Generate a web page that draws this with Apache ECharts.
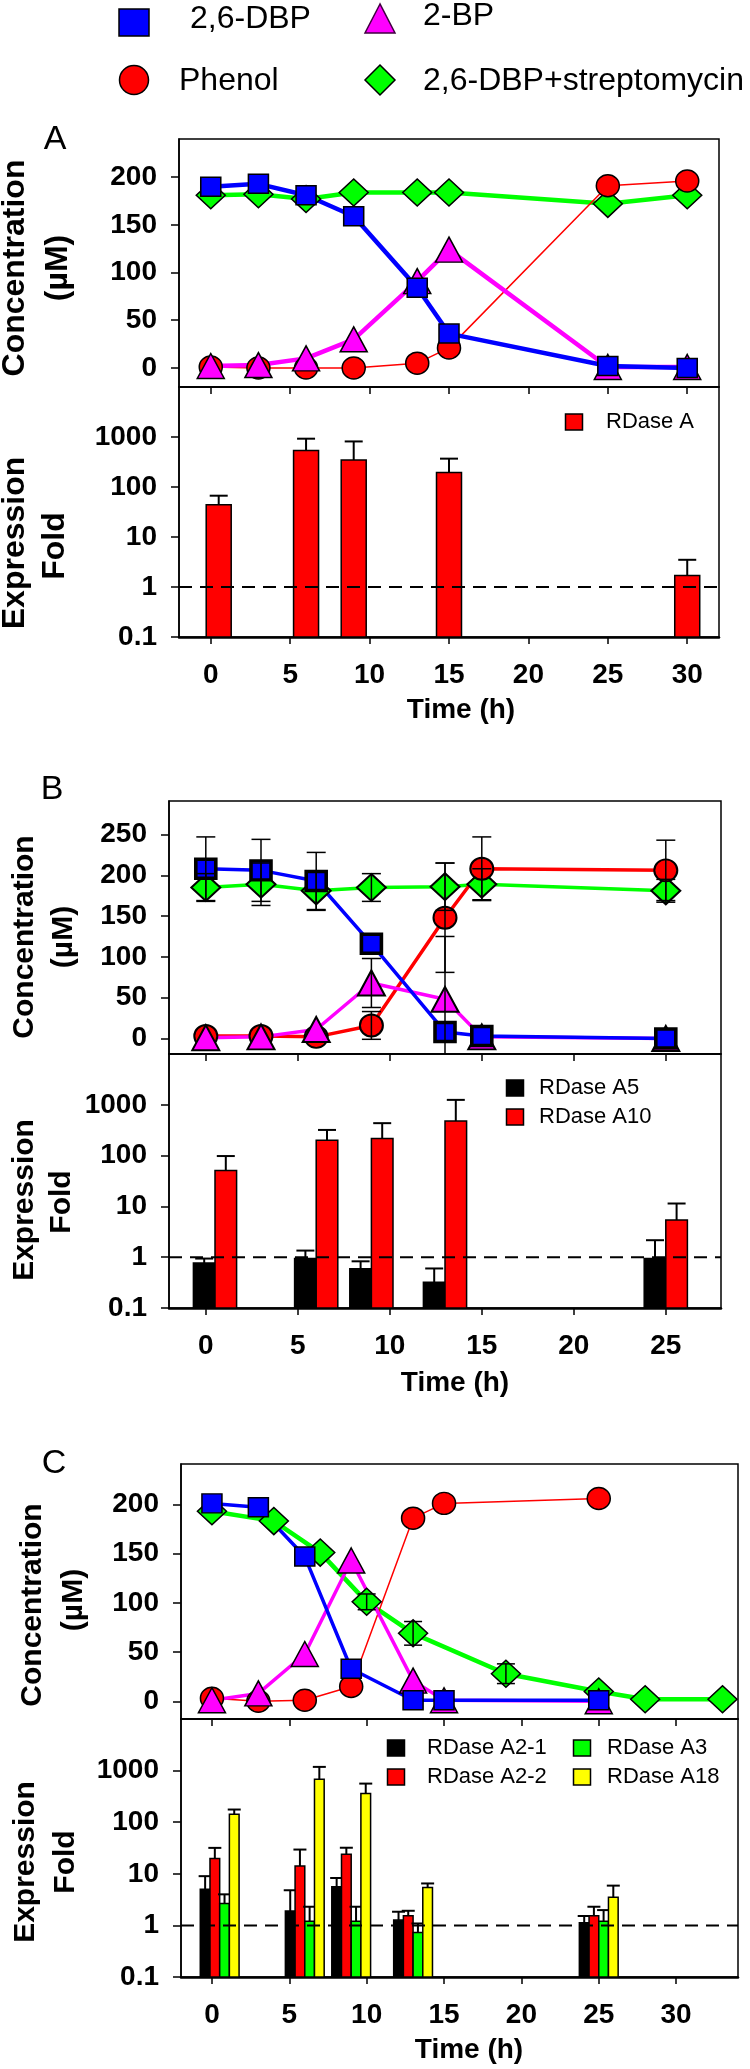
<!DOCTYPE html>
<html><head><meta charset="utf-8">
<script src="https://cdn.jsdelivr.net/npm/echarts@6/dist/echarts.min.js"></script>
<style>html,body{margin:0;padding:0;background:#fff}#c{width:750px;height:2069px}</style>
</head><body><div id="c"></div>
<script>
// ================= DATA =================
// Panel A - concentrations (µM)
const timeA   = [0, 3, 6, 9, 13, 15, 25, 30];
const dbpA    = [190, 193, 181, 159, 84, 36, 2, 0];
const bpA     = [2, 3, 10, 30, 91, 124, 1, 1];
const phenolA = [1, 0, 0, 0, 5, 21, 191, 196];
const strepA  = [181, 182, 177, 184, 184, 184, 172, 181];
// Panel A - expression fold (upper end of error bar in *Up)
const barTimeA = [0.5, 6, 9, 15, 30];
const rdaseA   = [44, 537, 347, 194, 1.7];
const rdaseAUp = [67, 925, 815, 369, 3.5];

// Panel B - concentrations (µM) with ± error
const timeB     = [0, 3, 6, 9, 13, 15, 25];
const dbpB      = [208, 206, 193, 116, 8, 3, 0];
const dbpBErr   = [39, 38, 35, 0, 0, 0, 0];
const bpB       = [1, 2, 11, 68, 48, 2, 0];
const bpBErr    = [0, 0, 0, 30, 77, 0, 0];
const phenolB   = [3, 3, 2, 16, 148, 208, 206];
const phenolBErr= [0, 0, 0, 17, 67, 39, 37];
const strepB    = [185, 189, 181, 185, 186, 189, 181];
const strepBErr = [17, 26, 24, 17, 29, 19, 14];
// Panel B - expression fold
const barTimeB   = [0.5, 6, 9, 13, 25];
const rdaseA5    = [0.77, 0.94, 0.59, 0.32, 0.94];
const rdaseA5Up  = [0.94, 1.35, 0.83, 0.6, 2.16];
const rdaseA10   = [51, 200, 218, 480, 5.4];
const rdaseA10Up = [98, 320, 435, 1250, 11.4];

// Panel C - concentrations (µM)
const timeC      = [0, 3, 6, 9, 13, 15, 25];
const dbpC       = [201, 197, 147, 33, 1, 1, 1];
const bpC        = [1, 8, 48, 143, 21, 1, 0];
const phenolC    = [3, 0, 1, 15, 186, 201, 206];
const timeStrepC = [0, 4, 7, 10, 13, 19, 25, 28, 33];
const strepC     = [193, 183, 151, 101, 69, 28, 10, 2, 2];
const strepCErr  = [0, 0, 0, 8, 12, 10, 0, 0, 0];
// Panel C - expression fold
const barTimeC   = [0.5, 6, 9, 13, 25];
const rdaseA21   = [5.0, 1.9, 5.6, 1.27, 1.12];
const rdaseA21Up = [9.0, 4.8, 8.3, 1.84, 1.52];
const rdaseA22   = [19.8, 14.1, 24, 1.54, 1.54];
const rdaseA22Up = [31.8, 29.5, 32, 1.92, 2.3];
const rdaseA3    = [2.67, 1.21, 1.21, 0.73, 1.21];
const rdaseA3Up  = [4.0, 2.3, 2.3, 1.09, 1.98];
const rdaseA18   = [143, 680, 359, 5.4, 3.5];
const rdaseA18Up = [176, 1180, 560, 6.5, 5.9];

// Tick labels
const ticksX30 = [0, 5, 10, 15, 20, 25, 30];
const ticksX25 = [0, 5, 10, 15, 20, 25];
const ticksConc200 = [0, 50, 100, 150, 200];
const ticksConc250 = [0, 50, 100, 150, 200, 250];
const ticksLog = [0.1, 1, 10, 100, 1000];

// ================= STYLE / LAYOUT =================
const FF = "'Liberation Sans', Arial, sans-serif";
const BLUE = '#0000ff', RED = '#ff0000', GREEN = '#00ff00', PINK = '#ff00ff', YELLOW = '#ffff00', BLACK = '#000000';

const gridPos = [
  {left: 179, top: 139, width: 540, height: 248},
  {left: 179, top: 387, width: 540, height: 250},
  {left: 169, top: 801, width: 552, height: 253},
  {left: 169, top: 1054, width: 552, height: 254},
  {left: 181, top: 1464, width: 557, height: 255},
  {left: 181, top: 1719, width: 557, height: 258}
];
const grids = gridPos.map(g => Object.assign({show: true, borderColor: '#000', borderWidth: 1.5, backgroundColor: 'transparent', containLabel: false}, g));

const plainNum = v => (v >= 1 ? String(Math.round(v)) : String(+v.toFixed(3)));

function xAx(g, min, max, ticks, showLabel) {
  return {type: 'value', gridIndex: g, min, max,
    axisLine: {show: true, onZero: false, lineStyle: {color: '#000', width: showLabel ? 2.5 : 1.5}},
    axisTick: {show: true, inside: false, length: 7, customValues: ticks, lineStyle: {color: '#000', width: 1.5}},
    axisLabel: {show: showLabel, customValues: ticks, margin: 24, color: '#000', fontSize: 28, fontWeight: 'bold', fontFamily: FF, formatter: plainNum},
    splitLine: {show: false}};
}
function yAx(g, type, min, max, ticks) {
  return {type, gridIndex: g, min, max, logBase: 10,
    axisLine: {show: true, onZero: false, lineStyle: {color: '#000', width: 1.5}},
    axisTick: {show: true, inside: false, length: 8, customValues: ticks, lineStyle: {color: '#000', width: 1.5}},
    axisLabel: {show: true, customValues: ticks, margin: 22, color: '#000', fontSize: 28, fontWeight: 'bold', fontFamily: FF, formatter: plainNum},
    splitLine: {show: false}};
}

const xAxes = [
  xAx(0, -2, 32, ticksX30, false), xAx(1, -2, 32, ticksX30, true),
  xAx(2, -2, 28, ticksX25, false), xAx(3, -2, 28, ticksX25, true),
  xAx(4, -2, 34, ticksX30, false), xAx(5, -2, 34, ticksX30, true)
];
const yAxes = [
  yAx(0, 'value', -20, 240, ticksConc200), yAx(1, 'log', 0.1, 10000, ticksLog),
  yAx(2, 'value', -19, 291, ticksConc250), yAx(3, 'log', 0.1, 10000, ticksLog),
  yAx(4, 'value', -18, 241, ticksConc200), yAx(5, 'log', 0.1, 10000, ticksLog)
];

const SYM = {
  dbp: {symbol: 'rect', size: [20, 19], color: BLUE},
  bp: {symbol: 'triangle', size: [27, 25], color: PINK},
  phenol: {symbol: 'circle', size: [23, 22], color: RED},
  strep: {symbol: 'diamond', size: [29, 27], color: GREEN}
};

function lineS(g, name, key, times, vals, lw, bw) {
  const s = SYM[key];
  return {type: 'line', name, xAxisIndex: g, yAxisIndex: g,
    data: times.map((t, i) => [t, vals[i]]),
    symbol: s.symbol, symbolSize: s.size, showAllSymbol: true,
    lineStyle: {color: s.color, width: lw},
    itemStyle: {color: s.color, borderColor: '#000', borderWidth: bw},
    z: 2};
}

function errS(g, times, vals, errs, capW) {
  return {type: 'custom', xAxisIndex: g, yAxisIndex: g, z: 6,
    data: times.map((t, i) => [t, vals[i], errs[i]]),
    encode: {x: 0, y: 1},
    renderItem: function (params, api) {
      const e = api.value(2);
      if (!e) return {type: 'group', children: []};
      const t = api.value(0), y = api.value(1);
      const cs = params.coordSys;
      const a = api.coord([t, y + e]), b = api.coord([t, y - e]);
      const top = Math.max(a[1], cs.y), bot = Math.min(b[1], cs.y + cs.height);
      const st = {stroke: '#000', lineWidth: 1.5};
      const kids = [{type: 'line', shape: {x1: a[0], y1: top, x2: a[0], y2: bot}, style: st}];
      if (a[1] >= cs.y) kids.push({type: 'line', shape: {x1: a[0] - capW / 2, y1: a[1], x2: a[0] + capW / 2, y2: a[1]}, style: st});
      if (b[1] <= cs.y + cs.height) kids.push({type: 'line', shape: {x1: a[0] - capW / 2, y1: b[1], x2: a[0] + capW / 2, y2: b[1]}, style: st});
      return {type: 'group', children: kids};
    }};
}

function barS(g, name, times, vals, ups, color, k, n, w, capW) {
  return {type: 'custom', name, xAxisIndex: g, yAxisIndex: g, z: 2,
    data: times.map((t, i) => [t, vals[i], ups[i]]),
    encode: {x: 0, y: 1},
    renderItem: function (params, api) {
      const t = api.value(0), v = api.value(1), up = api.value(2);
      const pTop = api.coord([t, v]);
      const pBase = api.coord([t, 0.1]);
      const cx = pTop[0] + (k - (n - 1) / 2) * w;
      const kids = [{type: 'rect', shape: {x: cx - w / 2, y: pTop[1], width: w, height: pBase[1] - pTop[1]},
        style: {fill: color, stroke: '#000', lineWidth: 1.5}}];
      if (up > v) {
        const pe = api.coord([t, up]);
        kids.push({type: 'line', shape: {x1: cx, y1: pTop[1], x2: cx, y2: pe[1]}, style: {stroke: '#000', lineWidth: 2}});
        kids.push({type: 'line', shape: {x1: cx - capW / 2, y1: pe[1], x2: cx + capW / 2, y2: pe[1]}, style: {stroke: '#000', lineWidth: 2}});
      }
      return {type: 'group', children: kids};
    }};
}

function refLine(g, xmin, xmax) {
  return {type: 'line', xAxisIndex: g, yAxisIndex: g, data: [[xmin, 1], [xmax, 1]], symbol: 'none', z: 4,
    lineStyle: {color: '#000', width: 2, type: [13, 8]}, silent: true};
}

const series = [
  // A
  lineS(0, '2,6-DBP+streptomycin', 'strep', timeA, strepA, 4.5, 1.5),
  lineS(0, 'Phenol', 'phenol', timeA, phenolA, 1.5, 1.5),
  lineS(0, '2-BP', 'bp', timeA, bpA, 4.5, 1.5),
  lineS(0, '2,6-DBP', 'dbp', timeA, dbpA, 4.5, 1.5),
  barS(1, 'RDase A', barTimeA, rdaseA, rdaseAUp, RED, 0, 1, 25, 18),
  refLine(1, -2, 32),
  // B
  lineS(2, '2,6-DBP+streptomycin', 'strep', timeB, strepB, 3.5, 2),
  lineS(2, 'Phenol', 'phenol', timeB, phenolB, 3.5, 2),
  lineS(2, '2-BP', 'bp', timeB, bpB, 3.5, 2),
  lineS(2, '2,6-DBP', 'dbp', timeB, dbpB, 3.5, 3.5),
  errS(2, timeB, strepB, strepBErr, 19),
  errS(2, timeB, phenolB, phenolBErr, 19),
  errS(2, timeB, bpB, bpBErr, 19),
  errS(2, timeB, dbpB, dbpBErr, 19),
  barS(3, 'RDase A5', barTimeB, rdaseA5, rdaseA5Up, BLACK, 0, 2, 21.6, 18),
  barS(3, 'RDase A10', barTimeB, rdaseA10, rdaseA10Up, RED, 1, 2, 21.6, 18),
  refLine(3, -2, 28),
  // C
  lineS(4, '2,6-DBP+streptomycin', 'strep', timeStrepC, strepC, 4.5, 1.5),
  lineS(4, 'Phenol', 'phenol', timeC, phenolC, 1.5, 1.5),
  lineS(4, '2-BP', 'bp', timeC, bpC, 3.5, 1.5),
  lineS(4, '2,6-DBP', 'dbp', timeC, dbpC, 3.5, 1.5),
  errS(4, timeStrepC, strepC, strepCErr, 18),
  barS(5, 'RDase A2-1', barTimeC, rdaseA21, rdaseA21Up, BLACK, 0, 4, 9.7, 13),
  barS(5, 'RDase A2-2', barTimeC, rdaseA22, rdaseA22Up, RED, 1, 4, 9.7, 13),
  barS(5, 'RDase A3', barTimeC, rdaseA3, rdaseA3Up, GREEN, 2, 4, 9.7, 13),
  barS(5, 'RDase A18', barTimeC, rdaseA18, rdaseA18Up, YELLOW, 3, 4, 9.7, 13),
  refLine(5, -2, 34)
];

// ================= GRAPHIC TEXT / LEGENDS =================
function txt(x, y, text, size, weight, align, rot, family) {
  return {type: 'text', x, y, rotation: rot || 0, z: 100,
    style: {text, fill: '#000', fontSize: size, fontWeight: weight || 'normal', fontFamily: family || FF,
      align: align || 'left', verticalAlign: 'middle'}};
}
function vtxt(x, y, text, size) { return txt(x, y, text, size, 'bold', 'center', Math.PI / 2); }
function legRect(cx, cy, color, label, tx) {
  return [{type: 'rect', z: 100, shape: {x: cx - 8.5, y: cy - 8, width: 17, height: 16}, style: {fill: color, stroke: '#000', lineWidth: 1.5}},
          txt(tx, cy, label, 22)];
}
const NARROW = "'Liberation Sans Narrow', 'Liberation Sans', Arial, sans-serif";
const graphic = [
  // top legend
  {type: 'rect', z: 100, shape: {x: 119, y: 9, width: 30, height: 27}, style: {fill: BLUE, stroke: '#000', lineWidth: 1.5}},
  txt(190, 19, '2,6-DBP', 32),
  {type: 'polygon', z: 100, shape: {points: [[380, 4], [365, 33], [395, 33]]}, style: {fill: PINK, stroke: '#400040', lineWidth: 1.5}},
  txt(423, 16, '2-BP', 32),
  {type: 'ellipse', z: 100, shape: {cx: 134, cy: 80, rx: 14.5, ry: 14.5}, style: {fill: RED, stroke: '#000', lineWidth: 1.5}},
  txt(179, 81, 'Phenol', 32),
  {type: 'polygon', z: 100, shape: {points: [[380, 65], [395, 80], [380, 95], [365, 80]]}, style: {fill: GREEN, stroke: '#000', lineWidth: 1.5}},
  txt(423, 81, '2,6-DBP+streptomycin', 32),
  // panel letters
  txt(55, 140, 'A', 34, 'normal', 'center', 0, NARROW),
  txt(52, 790, 'B', 34, 'normal', 'center', 0, NARROW),
  txt(54, 1464, 'C', 34, 'normal', 'center', 0, NARROW),
  // y titles
  vtxt(15, 268, 'Concentration', 32), vtxt(58, 268, '(µM)', 32),
  vtxt(15, 543, 'Expression', 32), vtxt(55, 546, 'Fold', 32),
  vtxt(25, 937, 'Concentration', 30), vtxt(64, 937, '(µM)', 30),
  vtxt(25, 1200, 'Expression', 30), vtxt(62, 1202, 'Fold', 30),
  vtxt(33, 1605, 'Concentration', 30), vtxt(74, 1600, '(µM)', 30),
  vtxt(26, 1862, 'Expression', 30), vtxt(66, 1862, 'Fold', 30),
  // x titles
  txt(461, 710, 'Time (h)', 28, 'bold', 'center'),
  txt(455, 1383, 'Time (h)', 28, 'bold', 'center'),
  txt(469, 2050, 'Time (h)', 28, 'bold', 'center')
].concat(
  legRect(574, 422, RED, 'RDase A', 606),
  legRect(515, 1088, BLACK, 'RDase A5', 539),
  legRect(515, 1117, RED, 'RDase A10', 539),
  legRect(396, 1748, BLACK, 'RDase A2-1', 427),
  legRect(396, 1777, RED, 'RDase A2-2', 427),
  legRect(582, 1748, GREEN, 'RDase A3', 607),
  legRect(582, 1777, YELLOW, 'RDase A18', 607)
);

const chart = echarts.init(document.getElementById('c'), null, {renderer: 'canvas', width: 750, height: 2069});
chart.setOption({
  animation: false,
  backgroundColor: '#ffffff',
  grid: grids, xAxis: xAxes, yAxis: yAxes, series, graphic
});
</script></body></html>
